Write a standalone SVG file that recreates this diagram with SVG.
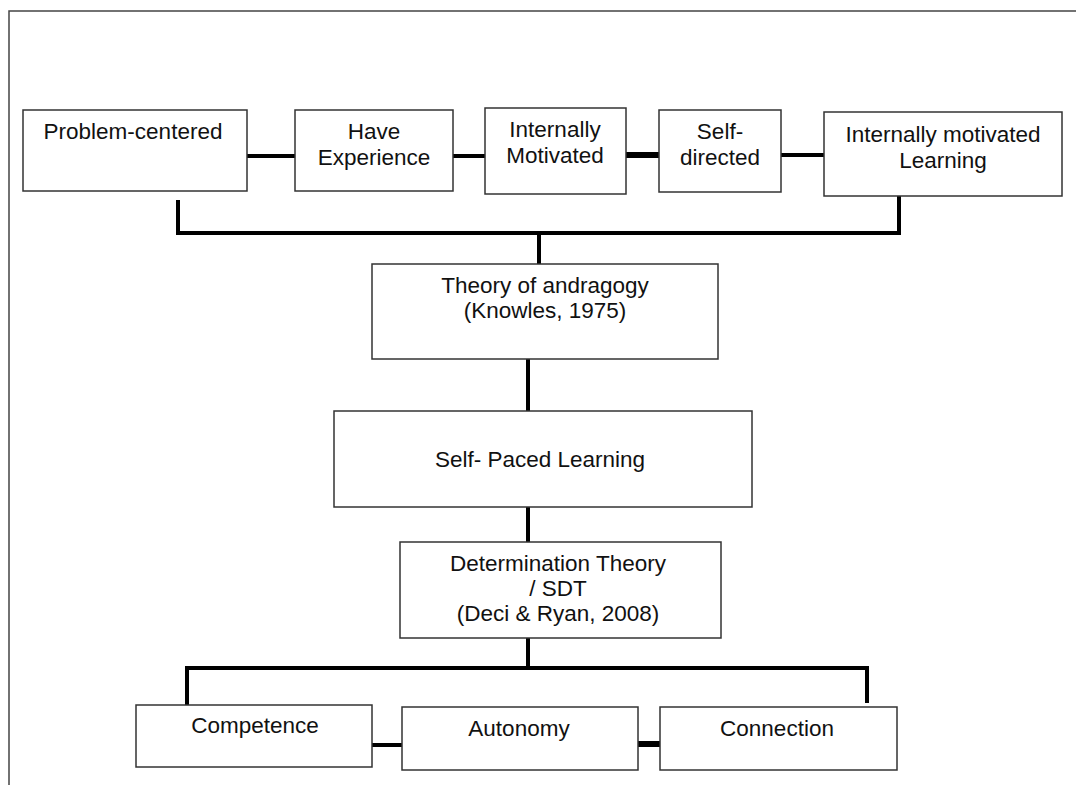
<svg xmlns="http://www.w3.org/2000/svg" width="1076" height="785" viewBox="0 0 1076 785">
<style>
.box{fill:#fff;stroke:#333;stroke-width:1.5}
.lbl{font-family:"Liberation Sans",Arial,sans-serif;font-size:22.5px;fill:#111;text-anchor:middle}
.con{fill:none;stroke:#000;stroke-width:4;stroke-linecap:butt;stroke-linejoin:miter}
.thick{stroke-width:6}
</style>
<rect x="0" y="0" width="1076" height="785" fill="#fff"/>
<rect x="9" y="11" width="1100" height="800" fill="none" stroke="#444" stroke-width="1.5"/>
<g id="connectors">
<line class="con" x1="247" y1="156" x2="295" y2="156"/>
<line class="con" x1="453" y1="156" x2="485" y2="156"/>
<line class="con thick" x1="626" y1="155" x2="659" y2="155"/>
<line class="con" x1="781" y1="155" x2="824" y2="155"/>
<polyline class="con" points="178,200 178,233 899,233 899,196"/>
<line class="con" x1="539" y1="233" x2="539" y2="264"/>
<line class="con" x1="528" y1="359" x2="528" y2="411"/>
<line class="con" x1="528" y1="507" x2="528" y2="542"/>
<line class="con" x1="528" y1="638" x2="528" y2="668"/>
<polyline class="con" points="187,705 187,668 867,668 867,703"/>
<line class="con" x1="372" y1="745" x2="402" y2="745"/>
<line class="con thick" x1="638" y1="744" x2="660" y2="744"/>
</g>
<g id="problem-centered"><rect class="box" x="23" y="110" width="224" height="81"/><text class="lbl" x="133" y="139">Problem-centered</text></g>
<g id="have-experience"><rect class="box" x="295" y="110" width="158" height="81"/><text class="lbl" x="374" y="139">Have</text><text class="lbl" x="374" y="165">Experience</text></g>
<g id="internally-motivated"><rect class="box" x="485" y="108" width="141" height="86"/><text class="lbl" x="555" y="137">Internally</text><text class="lbl" x="555" y="163">Motivated</text></g>
<g id="self-directed"><rect class="box" x="659" y="110" width="122" height="82"/><text class="lbl" x="720" y="139">Self-</text><text class="lbl" x="720" y="165">directed</text></g>
<g id="internally-motivated-learning"><rect class="box" x="824" y="112" width="238" height="84"/><text class="lbl" x="943" y="142">Internally motivated</text><text class="lbl" x="943" y="168">Learning</text></g>
<g id="andragogy"><rect class="box" x="372" y="264" width="346" height="95"/><text class="lbl" x="545" y="293">Theory of andragogy</text><text class="lbl" x="545" y="318">(Knowles, 1975)</text></g>
<g id="self-paced"><rect class="box" x="334" y="411" width="418" height="96"/><text class="lbl" x="540" y="467">Self- Paced Learning</text></g>
<g id="sdt"><rect class="box" x="400" y="542" width="321" height="96"/><text class="lbl" x="558" y="571">Determination Theory</text><text class="lbl" x="558" y="596">/ SDT</text><text class="lbl" x="558" y="621">(Deci &amp; Ryan, 2008)</text></g>
<g id="competence"><rect class="box" x="136" y="705" width="236" height="62"/><text class="lbl" x="255" y="733">Competence</text></g>
<g id="autonomy"><rect class="box" x="402" y="707" width="236" height="63"/><text class="lbl" x="519" y="736">Autonomy</text></g>
<g id="connection"><rect class="box" x="660" y="707" width="237" height="63"/><text class="lbl" x="777" y="736">Connection</text></g>
</svg>
